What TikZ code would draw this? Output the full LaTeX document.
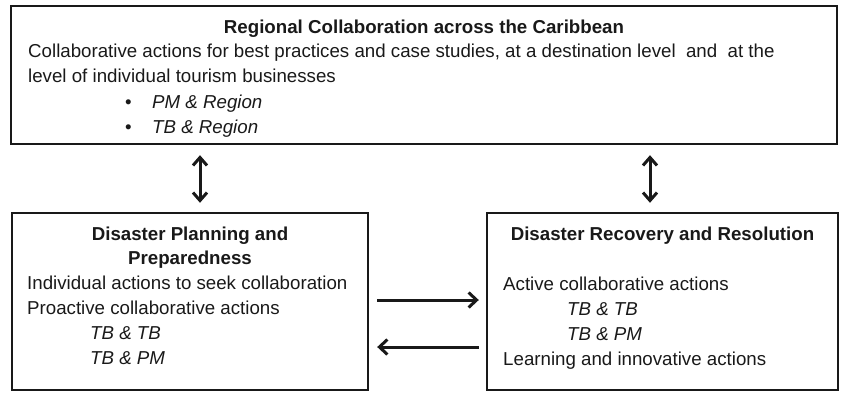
\documentclass[tikz,border=0pt]{standalone}
\usepackage{fontspec}
\setmainfont{Liberation Sans}
\usetikzlibrary{arrows.meta,calc}
\tikzset{
  box/.style={draw=black!90, line width=2.4pt, inner sep=0pt},
  txt/.style={anchor=base west, inner sep=0pt, font=\fontsize{18.7}{22}\selectfont, text=black!90},
  ttl/.style={anchor=base, inner sep=0pt, font=\fontsize{18.7}{22}\selectfont\bfseries, text=black!90},
  itx/.style={txt, font=\fontsize{18.7}{22}\selectfont\itshape},
  conn/.style={line width=3pt, draw=black!90, {Straight Barb[length=8pt,width=14pt]}-{Straight Barb[length=8pt,width=14pt]}},
  harr/.style={line width=3pt, draw=black!90, -{Straight Barb[length=8pt,width=15pt]}}
}
\begin{document}
\begin{tikzpicture}[x=1pt,y=-1pt]
\useasboundingbox (0,0) rectangle (841,394);
% boxes
\node[box, minimum width=826pt, minimum height=138pt] (top) at (424,75) {};
\node[box, minimum width=356pt, minimum height=177pt] (left) at (190,301.5) {};
\node[box, minimum width=351pt, minimum height=177pt] (right) at (662.5,301.5) {};
% top text
\node[ttl] (t1) at (424,33) {Regional Collaboration across the Caribbean};
\node[txt] (t2) at (28,57) {Collaborative actions for best practices and case studies, at a destination level\ \ and\ \ at the};
\node[txt] (t3) at (28,82) {level of individual tourism businesses};
\node[txt] (b1) at (125,108) {•};
\node[itx] (t4) at (152,108) {PM \& Region};
\node[txt] (b2) at (125,133) {•};
\node[itx] (t5) at (152,133) {TB \& Region};
% left text
\node[ttl] (l1) at (190,240) {Disaster Planning and};
\node[ttl] (l2) at (190,264) {Preparedness};
\node[txt] (l3) at (27,289) {Individual actions to seek collaboration};
\node[txt] (l4) at (27,314) {Proactive collaborative actions};
\node[itx] (l5) at (90,339) {TB \& TB};
\node[itx] (l6) at (90,364) {TB \& PM};
% right text
\node[ttl] (r1) at (662.5,240) {Disaster Recovery and Resolution};
\node[txt] (r2) at (503,290) {Active collaborative actions};
\node[itx] (r3) at (567,315) {TB \& TB};
\node[itx] (r4) at (567,340) {TB \& PM};
\node[txt] (r5) at (503,365) {Learning and innovative actions};
% connectors
\draw[conn, shorten <=10pt, shorten >=9pt] ([xshift=10pt]left.north |- top.south) -- ([xshift=10pt]left.north);
\draw[conn, shorten <=10pt, shorten >=9pt] ([xshift=-12.5pt]right.north |- top.south) -- ([xshift=-12.5pt]right.north);
\draw[harr, shorten <=8pt, shorten >=7pt] ([yshift=1.5pt]left.east) -- ([yshift=1.5pt]right.west);
\draw[harr, shorten <=7pt, shorten >=8pt] ([yshift=-45.5pt]right.west) -- ([yshift=-45.5pt]left.east);
\end{tikzpicture}
\end{document}
